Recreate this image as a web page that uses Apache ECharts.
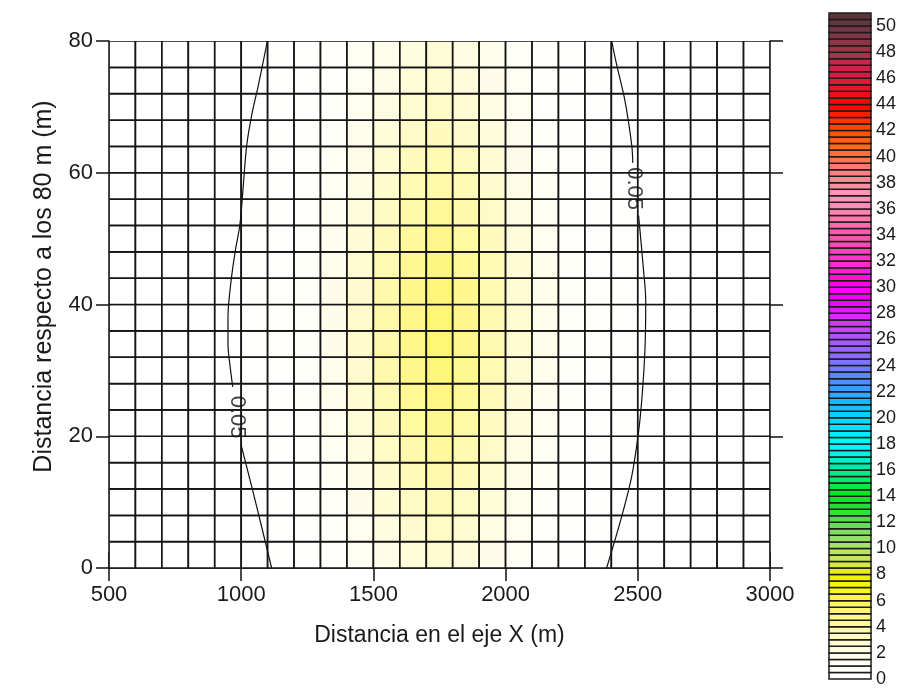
<!DOCTYPE html>
<html><head><meta charset="utf-8">
<script src="https://cdn.jsdelivr.net/npm/echarts@6/dist/echarts.min.js"></script>
<style>html,body{margin:0;padding:0;background:#fff;}#c{width:906px;height:688px;}</style>
</head><body><div id="c"></div>
<script>
// ---- data ----
const xCenters = [550,650,750,850,950,1050,1150,1250,1350,1450,1550,1650,1750,1850,1950,2050,2150,2250,2350,2450,2550,2650,2750,2850,2950];
const yCenters = [2,6,10,14,18,22,26,30,34,38,42,46,50,54,58,62,66,70,74,78];
// one row per yCenter (bottom to top), one value per xCenter
const zRows = [
 [0,0,0,0,0.01,0.04,0.16,0.41,0.81,1.35,1.94,2.43,2.70,2.38,1.84,1.27,0.76,0.38,0.14,0.03,0.01,0,0,0,0],
 [0,0,0,0,0.01,0.06,0.20,0.49,0.95,1.57,2.25,2.80,3.10,2.74,2.13,1.48,0.90,0.46,0.18,0.05,0.01,0,0,0,0],
 [0,0,0,0,0.02,0.08,0.25,0.58,1.10,1.80,2.55,3.17,3.50,3.10,2.42,1.70,1.04,0.55,0.23,0.07,0.02,0,0,0,0],
 [0,0,0,0,0.03,0.10,0.30,0.66,1.24,2.01,2.82,3.50,3.85,3.42,2.69,1.90,1.18,0.64,0.28,0.09,0.02,0,0,0,0],
 [0,0,0,0.01,0.04,0.13,0.35,0.76,1.39,2.23,3.10,3.83,4.20,3.75,2.96,2.10,1.33,0.74,0.34,0.11,0.03,0,0,0,0],
 [0,0,0,0.01,0.04,0.15,0.41,0.85,1.54,2.45,3.38,4.16,4.55,4.07,3.23,2.31,1.48,0.84,0.40,0.13,0.04,0.01,0,0,0],
 [0,0,0,0.01,0.05,0.18,0.46,0.93,1.66,2.63,3.62,4.45,4.85,4.35,3.46,2.49,1.61,0.93,0.45,0.15,0.04,0.01,0,0,0],
 [0,0,0,0.01,0.06,0.20,0.49,1.00,1.75,2.76,3.78,4.64,5.05,4.54,3.63,2.61,1.70,0.99,0.49,0.17,0.05,0.01,0,0,0],
 [0,0,0,0.02,0.06,0.21,0.52,1.03,1.80,2.83,3.86,4.74,5.15,4.64,3.71,2.68,1.75,1.03,0.52,0.18,0.05,0.01,0,0,0],
 [0,0,0,0.02,0.06,0.21,0.52,1.04,1.82,2.86,3.90,4.78,5.20,4.68,3.74,2.70,1.77,1.04,0.52,0.18,0.05,0.01,0,0,0],
 [0,0,0,0.02,0.06,0.20,0.51,1.02,1.79,2.81,3.83,4.69,5.10,4.59,3.67,2.65,1.73,1.02,0.51,0.18,0.05,0.01,0,0,0],
 [0,0,0,0.01,0.06,0.19,0.48,0.97,1.70,2.68,3.67,4.50,4.90,4.41,3.52,2.54,1.65,0.97,0.48,0.17,0.05,0.01,0,0,0],
 [0,0,0,0.01,0.05,0.17,0.43,0.89,1.58,2.50,3.43,4.22,4.60,4.13,3.28,2.36,1.52,0.88,0.43,0.15,0.04,0.01,0,0,0],
 [0,0,0,0.01,0.04,0.15,0.39,0.81,1.45,2.31,3.19,3.93,4.30,3.85,3.05,2.18,1.40,0.80,0.38,0.13,0.03,0,0,0,0],
 [0,0,0,0,0.03,0.12,0.33,0.71,1.30,2.09,2.92,3.60,3.95,3.52,2.78,1.98,1.25,0.70,0.32,0.10,0.03,0,0,0,0],
 [0,0,0,0,0.03,0.10,0.28,0.63,1.18,1.91,2.68,3.32,3.65,3.24,2.55,1.80,1.12,0.61,0.26,0.08,0.02,0,0,0,0],
 [0,0,0,0,0.02,0.07,0.24,0.54,1.04,1.70,2.41,2.99,3.30,2.92,2.28,1.60,0.98,0.52,0.21,0.06,0.01,0,0,0,0],
 [0,0,0,0,0.01,0.06,0.20,0.48,0.93,1.53,2.18,2.71,3.00,2.65,2.06,1.44,0.88,0.46,0.18,0.05,0.01,0,0,0,0],
 [0,0,0,0,0.01,0.05,0.17,0.42,0.82,1.36,1.95,2.44,2.70,2.38,1.85,1.28,0.77,0.39,0.15,0.04,0.01,0,0,0,0],
 [0,0,0,0,0.01,0.04,0.15,0.37,0.74,1.23,1.76,2.21,2.45,2.16,1.67,1.15,0.69,0.34,0.12,0.03,0,0,0,0,0]
];
const xTicks = [500,1000,1500,2000,2500,3000];
const yTicks = [0,20,40,60,80];
const colorbarTicks = [0,2,4,6,8,10,12,14,16,18,20,22,24,26,28,30,32,34,36,38,40,42,44,46,48,50];
const colorbarTop = 51;
const colorbarStep = 0.5;
// 0.05 contour, split where the labels interrupt it
const contourLeftUpper = [[1099,80],[1065,73.3],[1040,68.8],[1021,64.2],[1006,57.1],[995,52.1],[977,48],[960,43],[950,38],[950,34],[958,30.6],[968,27.5]];
const contourLeftLower = [[1000,18.6],[1040,12.3],[1077,6.3],[1115,0]];
const contourRightUpper = [[2401,80],[2420,76.4],[2452,70.8],[2477,64.2],[2481,61.5]];
const contourRightLower = [[2503,53.5],[2521,45.5],[2530,40.5],[2527,33.1],[2515,25.5],[2502,20.4],[2477,13.9],[2439,7.8],[2382,0]];
const contourLabels = [[984,22.9],[2487,57.6]];
const contourLevelText = '0.05';

// ---- colour scale (style) ----
const paletteStops = [
 [0,'#ffffff'],[1,'#fffffa'],[2,'#fffde6'],[3,'#fffbc8'],[4,'#fff9a6'],[5,'#fff67e'],[6,'#fff650'],[7,'#f8f418'],[8,'#eef000'],
 [9,'#cfe94c'],[10,'#aee26a'],[11,'#8edd66'],[12,'#5cdc55'],[13,'#28e033'],[14,'#00ec10'],[15,'#00ec55'],[16,'#00eb98'],
 [17,'#00efd8'],[18,'#00fbff'],[19,'#00eaff'],[20,'#00d8ff'],[21,'#14bcff'],[22,'#35a2ff'],[23,'#5589ff'],[24,'#7777ff'],
 [25,'#9466ff'],[26,'#ab55ff'],[27,'#c544ff'],[28,'#dc22ff'],[29,'#ee00ff'],[30,'#ff00f4'],[31,'#ff14dc'],[32,'#ff30c8'],
 [33,'#ff44b8'],[34,'#ff56aa'],[35,'#ff72aa'],[36,'#ff88b6'],[37,'#ff98bc'],[38,'#ff8a9c'],[39,'#ff7a7a'],[40,'#ff7448'],
 [41,'#ff6610'],[42,'#ff5000'],[43,'#ff2800'],[44,'#ff0000'],[45,'#ee1020'],[46,'#dc1a40'],[47,'#c82648'],[48,'#a83048'],
 [49,'#883646'],[50,'#6a3644'],[51,'#583434']
];
function hexToRgb(h){return [parseInt(h.substr(1,2),16),parseInt(h.substr(3,2),16),parseInt(h.substr(5,2),16)];}
function colorAt(v){
  if(v<=paletteStops[0][0]) return paletteStops[0][1];
  for(let i=1;i<paletteStops.length;i++){
    if(v<=paletteStops[i][0]){
      const a=paletteStops[i-1], b=paletteStops[i];
      const t=(v-a[0])/(b[0]-a[0]); const ca=hexToRgb(a[1]), cb=hexToRgb(b[1]);
      return 'rgb('+ca.map((c,k)=>Math.round(c+(cb[k]-c)*t)).join(',')+')';
    }
  }
  return paletteStops[paletteStops.length-1][1];
}

const cells = [];
yCenters.forEach((y,j)=>xCenters.forEach((x,i)=>cells.push([x,y,zRows[j][i]])));
const halfW = (xCenters[1]-xCenters[0])/2, halfH = (yCenters[1]-yCenters[0])/2;
const stripes = [];
for(let lo=0; lo<colorbarTop-1e-9; lo+=colorbarStep) stripes.push([lo]);

const TXT = '#1a1a1a';
const FONT = 'Liberation Sans, Arial, sans-serif';
const axisLine = {show:true, lineStyle:{color:'#111', width:1.5}};
function tick(len){return {show:true, inside:false, length:len, lineStyle:{color:'#111', width:1.5}};}

const chart = echarts.init(document.getElementById('c'), null, {renderer:'canvas'});
chart.setOption({
  animation:false,
  backgroundColor:'#ffffff',
  grid:[
    {left:109, right:136, top:41, bottom:120},
    {left:829, width:42, top:13, height:670}
  ],
  xAxis:[
    {type:'value', gridIndex:0, min:xTicks[0], max:xTicks[xTicks.length-1], interval:xTicks[1]-xTicks[0], position:'bottom',
     axisLine:axisLine, axisTick:tick(13), splitLine:{show:false},
     axisLabel:{color:TXT, fontSize:22, fontFamily:FONT, margin:16, formatter:v=>String(v)},
     name:'Distancia en el eje X (m)', nameLocation:'middle', nameGap:56,
     nameTextStyle:{color:TXT, fontSize:23, fontFamily:FONT}},
    {type:'value', gridIndex:0, min:xTicks[0], max:xTicks[xTicks.length-1], interval:xTicks[1]-xTicks[0], position:'top',
     axisLine:axisLine, axisTick:tick(16), splitLine:{show:false}, axisLabel:{show:false}},
    {type:'value', gridIndex:1, min:0, max:1, show:false}
  ],
  yAxis:[
    {type:'value', gridIndex:0, min:yTicks[0], max:yTicks[yTicks.length-1], interval:yTicks[1]-yTicks[0], position:'left',
     axisLine:axisLine, axisTick:tick(13), splitLine:{show:false},
     axisLabel:{color:TXT, fontSize:22, fontFamily:FONT, margin:16, formatter:v=>String(v)},
     name:'Distancia respecto a los 80 m (m)', nameLocation:'middle', nameGap:52,
     nameTextStyle:{color:TXT, fontSize:25, fontFamily:FONT, padding:[0,0,0,36]}},
    {type:'value', gridIndex:0, min:yTicks[0], max:yTicks[yTicks.length-1], interval:yTicks[1]-yTicks[0], position:'right',
     axisLine:axisLine, axisTick:tick(13), splitLine:{show:false}, axisLabel:{show:false}},
    {type:'value', gridIndex:1, min:0, max:colorbarTop, interval:colorbarTicks[1]-colorbarTicks[0], position:'right',
     axisLine:{show:false}, axisTick:{show:false}, splitLine:{show:false},
     axisLabel:{color:TXT, fontSize:18, fontFamily:FONT, margin:5,
       formatter:v=>colorbarTicks.indexOf(v)>=0?String(v):''}}
  ],
  series:[
    {type:'custom', xAxisIndex:0, yAxisIndex:0, data:cells, clip:true, silent:true, z:1,
     encode:{x:0,y:1},
     renderItem:function(params, api){
       const x=api.value(0), y=api.value(1), v=api.value(2);
       const p0=api.coord([x-halfW, y+halfH]), p1=api.coord([x+halfW, y-halfH]);
       return {type:'rect', shape:{x:p0[0], y:p0[1], width:p1[0]-p0[0], height:p1[1]-p0[1]},
               style:{fill:colorAt(v), stroke:'#151515', lineWidth:1.7}};
     }},
    {type:'custom', xAxisIndex:2, yAxisIndex:2, data:stripes, silent:true, z:1,
     encode:{y:0},
     renderItem:function(params, api){
       const lo=api.value(0);
       const p0=api.coord([0, lo+colorbarStep]), p1=api.coord([1, lo]);
       return {type:'rect', shape:{x:p0[0], y:p0[1], width:p1[0]-p0[0], height:p1[1]-p0[1]},
               style:{fill:colorAt(lo+colorbarStep/2), stroke:'#1c1c1c', lineWidth:1.5}};
     }},
    ...[contourLeftUpper, contourLeftLower, contourRightUpper, contourRightLower].map(d=>({
      type:'line', xAxisIndex:0, yAxisIndex:0, data:d, smooth:0.35, showSymbol:false, silent:true, z:5,
      lineStyle:{color:'#111', width:1.2}
    })),
    {type:'scatter', xAxisIndex:0, yAxisIndex:0, symbolSize:0, silent:true, z:6,
     data:contourLabels,
     label:{show:true, position:'inside', formatter:contourLevelText, rotate:-90,
            color:'#111', fontSize:22, fontFamily:FONT}}
  ]
});
</script></body></html>
